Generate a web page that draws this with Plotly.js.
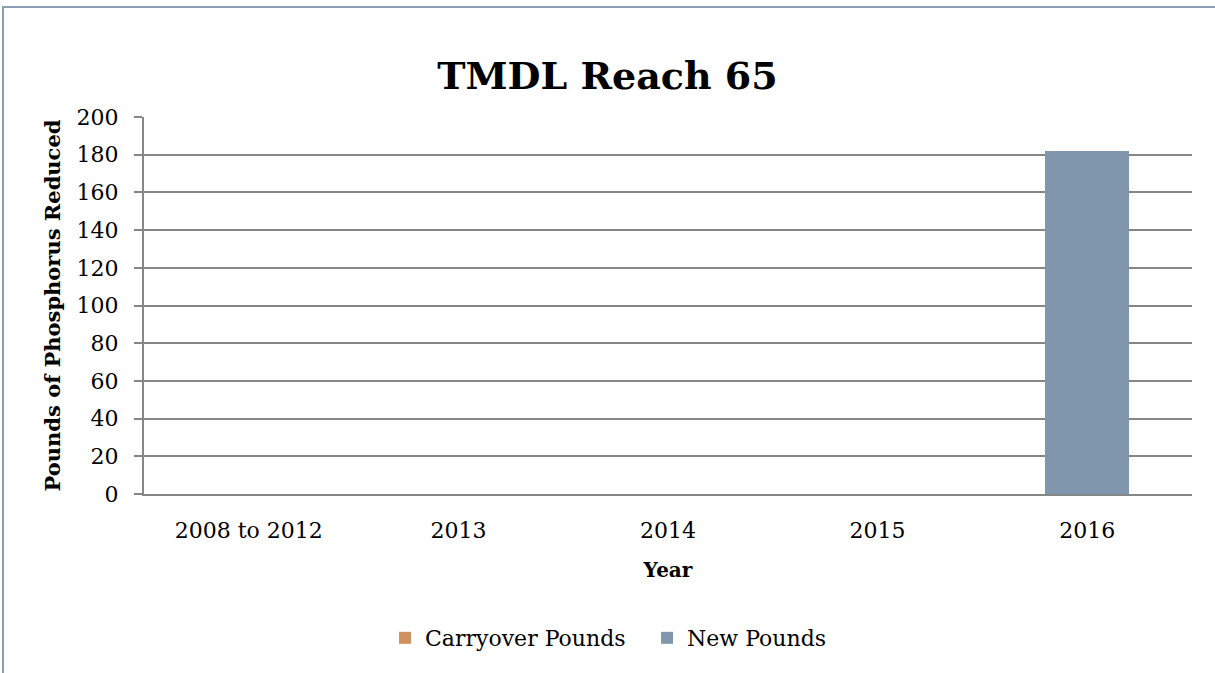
<!DOCTYPE html>
<html>
<head>
<meta charset="utf-8">
<script src="https://cdn.plot.ly/plotly-3.0.1.min.js"></script>
<style>
  html, body { margin: 0; padding: 0; overflow: hidden; background: #ffffff; }
  #frame { position: absolute; left: 2px; top: 6px; width: 1400px; height: 900px;
           border-left: 2px solid #8a9db3; border-top: 2px solid #8a9db3; box-sizing: border-box; }
  #chart { position: absolute; left: 0; top: 0; width: 1215px; height: 673px; }
</style>
</head>
<body>
<div id="frame"></div>
<div id="chart"></div>
<script>
const categories = ["2008 to 2012", "2013", "2014", "2015", "2016"];
const carryoverPounds = [0, 0, 0, 0, 0];
const newPounds = [0, 0, 0, 0, 182];
const yTicks = [0, 20, 40, 60, 80, 100, 120, 140, 160, 180, 200];

const serif = "DejaVu Serif";

const data = [
  { type: "bar", name: "Carryover Pounds", x: categories, y: carryoverPounds,
    marker: { color: "#d1915f" }, width: 0.4 },
  { type: "bar", name: "New Pounds", x: categories, y: newPounds,
    marker: { color: "#7f96ad" }, width: 0.4 }
];

const layout = {
  width: 1215, height: 673,
  paper_bgcolor: "rgba(0,0,0,0)", plot_bgcolor: "rgba(0,0,0,0)",
  barmode: "stack",
  margin: { l: 144, r: 23, t: 117, b: 179 },
  font: { family: serif, size: 22, color: "#000000" },
  title: { text: "<b>TMDL Reach 65</b>", font: { family: serif, size: 38, color: "#000000" },
           x: 0.5, xanchor: "center", y: 0.888, yanchor: "middle" },
  xaxis: {
    type: "category",
    showgrid: false, showline: true, linecolor: "#868686", linewidth: 2,
    ticks: "", ticklabelstandoff: 16,
    tickfont: { family: serif, size: 22, color: "#000000" },
    title: { text: "<b>Year</b>", font: { family: serif, size: 20, color: "#000000" }, standoff: 21 },
    zeroline: false
  },
  yaxis: {
    range: [0, 200], tickmode: "array", tickvals: yTicks, ticktext: yTicks.map(String),
    showgrid: true, gridcolor: "#868686", gridwidth: 2,
    showline: true, linecolor: "#868686", linewidth: 2,
    ticks: "outside", ticklen: 8, tickcolor: "#868686", tickwidth: 2,
    ticklabelstandoff: 11,
    tickfont: { family: serif, size: 22, color: "#000000" },
    title: { text: "<b>Pounds of Phosphorus Reduced</b>", font: { family: serif, size: 21, color: "#000000" }, standoff: 10 },
    zeroline: false
  },
  showlegend: true,
  legend: { orientation: "h", x: 0.23, xanchor: "left", y: -0.382, yanchor: "middle",
            font: { family: serif, size: 22, color: "#000000" }, traceorder: "normal",
            itemwidth: 30, entrywidth: 217, entrywidthmode: "pixels", bgcolor: "rgba(0,0,0,0)" },
  hovermode: false
};

Plotly.newPlot("chart", data, layout, { displayModeBar: false, staticPlot: true });
</script>
</body>
</html>
